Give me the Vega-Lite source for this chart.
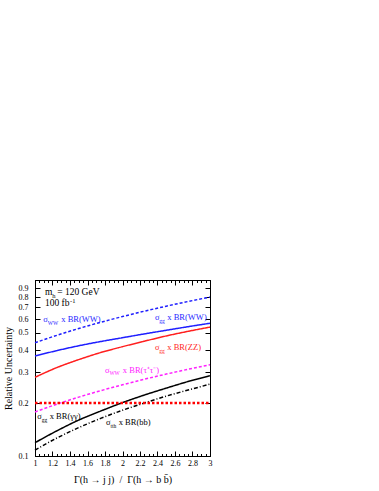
{
  "$schema": "https://vega.github.io/schema/vega-lite/v6.json",
  "width": 175,
  "height": 176,
  "autosize": "none",
  "padding": {"left": 35, "top": 280, "right": 169, "bottom": 35},
  "background": "white",
  "config": {
    "font": "Liberation Serif",
    "view": {"stroke": "black", "strokeWidth": 1},
    "axis": {
      "labelFont": "Liberation Serif",
      "labelFontSize": 8,
      "labelColor": "black",
      "titleFont": "Liberation Serif",
      "titleFontSize": 10,
      "titleFontWeight": "normal",
      "titleColor": "black",
      "tickColor": "black",
      "domainColor": "black",
      "grid": false
    }
  },
  "datasets": {
    "curves": [
      {"series": "WW_WW", "x": 1, "y": 0.44}, {"series": "WW_WW", "x": 1.25, "y": 0.485}, {"series": "WW_WW", "x": 1.5, "y": 0.53}, {"series": "WW_WW", "x": 1.75, "y": 0.575}, {"series": "WW_WW", "x": 2, "y": 0.62}, {"series": "WW_WW", "x": 2.25, "y": 0.665}, {"series": "WW_WW", "x": 2.5, "y": 0.71}, {"series": "WW_WW", "x": 2.75, "y": 0.755}, {"series": "WW_WW", "x": 3, "y": 0.8},
      {"series": "gg_WW", "x": 1, "y": 0.37}, {"series": "gg_WW", "x": 1.25, "y": 0.397}, {"series": "gg_WW", "x": 1.5, "y": 0.423}, {"series": "gg_WW", "x": 1.75, "y": 0.447}, {"series": "gg_WW", "x": 2, "y": 0.47}, {"series": "gg_WW", "x": 2.25, "y": 0.494}, {"series": "gg_WW", "x": 2.5, "y": 0.518}, {"series": "gg_WW", "x": 2.75, "y": 0.543}, {"series": "gg_WW", "x": 3, "y": 0.568},
      {"series": "gg_ZZ", "x": 1, "y": 0.28}, {"series": "gg_ZZ", "x": 1.25, "y": 0.318}, {"series": "gg_ZZ", "x": 1.5, "y": 0.353}, {"series": "gg_ZZ", "x": 1.75, "y": 0.387}, {"series": "gg_ZZ", "x": 2, "y": 0.418}, {"series": "gg_ZZ", "x": 2.25, "y": 0.449}, {"series": "gg_ZZ", "x": 2.5, "y": 0.481}, {"series": "gg_ZZ", "x": 2.75, "y": 0.511}, {"series": "gg_ZZ", "x": 3, "y": 0.54},
      {"series": "WW_tautau", "x": 1, "y": 0.178}, {"series": "WW_tautau", "x": 1.25, "y": 0.197}, {"series": "WW_tautau", "x": 1.5, "y": 0.216}, {"series": "WW_tautau", "x": 1.75, "y": 0.235}, {"series": "WW_tautau", "x": 2, "y": 0.254}, {"series": "WW_tautau", "x": 2.25, "y": 0.273}, {"series": "WW_tautau", "x": 2.5, "y": 0.292}, {"series": "WW_tautau", "x": 2.75, "y": 0.311}, {"series": "WW_tautau", "x": 3, "y": 0.33},
      {"series": "gg_gamgam", "x": 1, "y": 0.119}, {"series": "gg_gamgam", "x": 1.25, "y": 0.139}, {"series": "gg_gamgam", "x": 1.5, "y": 0.16}, {"series": "gg_gamgam", "x": 1.75, "y": 0.18}, {"series": "gg_gamgam", "x": 2, "y": 0.201}, {"series": "gg_gamgam", "x": 2.25, "y": 0.222}, {"series": "gg_gamgam", "x": 2.5, "y": 0.243}, {"series": "gg_gamgam", "x": 2.75, "y": 0.265}, {"series": "gg_gamgam", "x": 3, "y": 0.286},
      {"series": "tth_bb", "x": 1, "y": 0.108}, {"series": "tth_bb", "x": 1.25, "y": 0.1265}, {"series": "tth_bb", "x": 1.5, "y": 0.145}, {"series": "tth_bb", "x": 1.75, "y": 0.1635}, {"series": "tth_bb", "x": 2, "y": 0.182}, {"series": "tth_bb", "x": 2.25, "y": 0.2}, {"series": "tth_bb", "x": 2.5, "y": 0.219}, {"series": "tth_bb", "x": 2.75, "y": 0.237}, {"series": "tth_bb", "x": 3, "y": 0.256}
    ],
    "ref": [
      {"series": "ref", "x": 1, "y": 0.2}, {"series": "ref", "x": 3, "y": 0.2}
    ],
    "labels": [
      {"g": "note", "p": "note", "x": 1.114, "y": 0.817, "t": "m"},
      {"g": "note", "p": "notesub", "x": 1.196, "y": 0.795, "t": "h"},
      {"g": "note", "p": "note", "x": 1.254, "y": 0.817, "t": "= 120 GeV"},
      {"g": "note", "p": "note", "x": 1.114, "y": 0.71, "t": "100 fb"},
      {"g": "note", "p": "notesub", "x": 1.4, "y": 0.74, "t": "-1"},
      {"g": "WW_WW", "p": "main", "x": 1.095, "y": 0.575, "t": "σ"},
      {"g": "WW_WW", "p": "sub", "x": 1.146, "y": 0.557, "t": "WW"},
      {"g": "WW_WW", "p": "main", "x": 1.3, "y": 0.575, "t": "x BR(WW)"},
      {"g": "gg_WW", "p": "main", "x": 2.37, "y": 0.59, "t": "σ"},
      {"g": "gg_WW", "p": "sub", "x": 2.421, "y": 0.5728, "t": "gg"},
      {"g": "gg_WW", "p": "main", "x": 2.512, "y": 0.59, "t": "x BR(WW)"},
      {"g": "gg_ZZ", "p": "main", "x": 2.37, "y": 0.3994, "t": "σ"},
      {"g": "gg_ZZ", "p": "sub", "x": 2.421, "y": 0.3869, "t": "gg"},
      {"g": "gg_ZZ", "p": "main", "x": 2.512, "y": 0.3994, "t": "x BR(ZZ)"},
      {"g": "WW_tautau", "p": "main", "x": 1.8, "y": 0.2964, "t": "σ"},
      {"g": "WW_tautau", "p": "sub", "x": 1.85, "y": 0.2868, "t": "WW"},
      {"g": "WW_tautau", "p": "main", "x": 2.004, "y": 0.2964, "t": "x BR(τ⁺τ⁻)"},
      {"g": "gg_gamgam", "p": "main", "x": 1.026, "y": 0.1618, "t": "σ"},
      {"g": "gg_gamgam", "p": "sub", "x": 1.077, "y": 0.1567, "t": "gg"},
      {"g": "gg_gamgam", "p": "main", "x": 1.168, "y": 0.1618, "t": "x BR(γγ)"},
      {"g": "tth_bb", "p": "main", "x": 1.811, "y": 0.1496, "t": "σ"},
      {"g": "tth_bb", "p": "sub", "x": 1.862, "y": 0.1449, "t": "tth"},
      {"g": "tth_bb", "p": "main", "x": 1.957, "y": 0.1496, "t": "x BR(bb)"}
    ]
  },
  "layer": [
    {
      "data": {"name": "curves"},
      "mark": {"type": "line", "interpolate": "monotone", "strokeWidth": 1.5},
      "encoding": {
        "x": {
          "field": "x", "type": "quantitative",
          "scale": {"domain": [1, 3], "nice": false, "zero": false},
          "axis": {
            "orient": "bottom",
            "values": [1, 1.05, 1.1, 1.15, 1.2, 1.25, 1.3, 1.35, 1.4, 1.45, 1.5, 1.55, 1.6, 1.65, 1.7, 1.75, 1.8, 1.85, 1.9, 1.95, 2, 2.05, 2.1, 2.15, 2.2, 2.25, 2.3, 2.35, 2.4, 2.45, 2.5, 2.55, 2.6, 2.65, 2.7, 2.75, 2.8, 2.85, 2.9, 2.95, 3],
            "labelExpr": "abs(datum.value*5 - round(datum.value*5)) < 0.01 ? format(datum.value, '~g') : ''",
            "tickSize": {"condition": {"test": "abs(datum.value*5 - round(datum.value*5)) < 0.01", "value": -5}, "value": -2.5},
            "labelPadding": 8,
            "labelFlush": false,
            "labelOverlap": false,
            "title": "Γ(h → j j)\u00a0\u00a0/\u00a0\u00a0Γ(h → b b̄)",
            "titlePadding": 5
          }
        },
        "y": {
          "field": "y", "type": "quantitative",
          "scale": {"type": "log", "domain": [0.1, 1], "nice": false},
          "axis": {
            "orient": "left",
            "values": [0.1, 0.2, 0.3, 0.4, 0.5, 0.6, 0.7, 0.8, 0.9],
            "labelExpr": "format(datum.value, '.1f')",
            "tickSize": -5,
            "labelPadding": 12,
            "labelOverlap": false,
            "title": "Relative Uncertainty",
            "titlePadding": 5
          }
        },
        "color": {
          "field": "series", "type": "nominal", "legend": null,
          "scale": {
            "domain": ["WW_WW", "gg_WW", "gg_ZZ", "WW_tautau", "gg_gamgam", "tth_bb", "note"],
            "range": ["#1f1fff", "#1f1fff", "#ff1f1f", "#ff22ff", "#000000", "#000000", "#000000"]
          }
        },
        "strokeDash": {
          "field": "series", "type": "nominal", "legend": null,
          "scale": {
            "domain": ["WW_WW", "gg_WW", "gg_ZZ", "WW_tautau", "gg_gamgam", "tth_bb"],
            "range": [[3, 2], [1, 0], [1, 0], [3, 2], [1, 0], [4, 2, 1, 2]]
          }
        }
      }
    },
    {
      "data": {"name": "ref"},
      "mark": {"type": "line", "color": "#ff0000", "strokeWidth": 2.5, "strokeDash": [2.5, 2]},
      "encoding": {
        "x": {
          "field": "x", "type": "quantitative",
          "scale": {"domain": [1, 3], "nice": false, "zero": false},
          "axis": {
            "orient": "top",
            "values": [1, 1.05, 1.1, 1.15, 1.2, 1.25, 1.3, 1.35, 1.4, 1.45, 1.5, 1.55, 1.6, 1.65, 1.7, 1.75, 1.8, 1.85, 1.9, 1.95, 2, 2.05, 2.1, 2.15, 2.2, 2.25, 2.3, 2.35, 2.4, 2.45, 2.5, 2.55, 2.6, 2.65, 2.7, 2.75, 2.8, 2.85, 2.9, 2.95, 3],
            "labels": false,
            "tickSize": {"condition": {"test": "abs(datum.value*5 - round(datum.value*5)) < 0.01", "value": -5}, "value": -2.5},
            "title": null
          }
        },
        "y": {
          "field": "y", "type": "quantitative",
          "scale": {"type": "log", "domain": [0.1, 1], "nice": false},
          "axis": {
            "orient": "right",
            "values": [0.1, 0.2, 0.3, 0.4, 0.5, 0.6, 0.7, 0.8, 0.9],
            "labels": false,
            "tickSize": -5,
            "title": null
          }
        }
      }
    },
    {
      "data": {"name": "labels"},
      "transform": [{"filter": "datum.p === 'main'"}],
      "mark": {"type": "text", "align": "left", "baseline": "alphabetic", "font": "Liberation Serif", "fontSize": 8.5},
      "encoding": {
        "x": {"field": "x", "type": "quantitative", "scale": {"domain": [1, 3], "nice": false, "zero": false}, "axis": null},
        "y": {"field": "y", "type": "quantitative", "scale": {"type": "log", "domain": [0.1, 1], "nice": false}, "axis": null},
        "text": {"field": "t", "type": "nominal"},
        "color": {"field": "g", "type": "nominal", "legend": null}
      }
    },
    {
      "data": {"name": "labels"},
      "transform": [{"filter": "datum.p === 'sub'"}],
      "mark": {"type": "text", "align": "left", "baseline": "alphabetic", "font": "Liberation Serif", "fontSize": 5.5},
      "encoding": {
        "x": {"field": "x", "type": "quantitative", "scale": {"domain": [1, 3], "nice": false, "zero": false}, "axis": null},
        "y": {"field": "y", "type": "quantitative", "scale": {"type": "log", "domain": [0.1, 1], "nice": false}, "axis": null},
        "text": {"field": "t", "type": "nominal"},
        "color": {"field": "g", "type": "nominal", "legend": null}
      }
    },
    {
      "data": {"name": "labels"},
      "transform": [{"filter": "datum.p === 'note'"}],
      "mark": {"type": "text", "align": "left", "baseline": "alphabetic", "font": "Liberation Serif", "fontSize": 9.5},
      "encoding": {
        "x": {"field": "x", "type": "quantitative", "scale": {"domain": [1, 3], "nice": false, "zero": false}, "axis": null},
        "y": {"field": "y", "type": "quantitative", "scale": {"type": "log", "domain": [0.1, 1], "nice": false}, "axis": null},
        "text": {"field": "t", "type": "nominal"},
        "color": {"field": "g", "type": "nominal", "legend": null}
      }
    },
    {
      "data": {"name": "labels"},
      "transform": [{"filter": "datum.p === 'notesub'"}],
      "mark": {"type": "text", "align": "left", "baseline": "alphabetic", "font": "Liberation Serif", "fontSize": 6.5},
      "encoding": {
        "x": {"field": "x", "type": "quantitative", "scale": {"domain": [1, 3], "nice": false, "zero": false}, "axis": null},
        "y": {"field": "y", "type": "quantitative", "scale": {"type": "log", "domain": [0.1, 1], "nice": false}, "axis": null},
        "text": {"field": "t", "type": "nominal"},
        "color": {"field": "g", "type": "nominal", "legend": null}
      }
    }
  ],
  "resolve": {"axis": {"x": "independent", "y": "independent"}}
}
